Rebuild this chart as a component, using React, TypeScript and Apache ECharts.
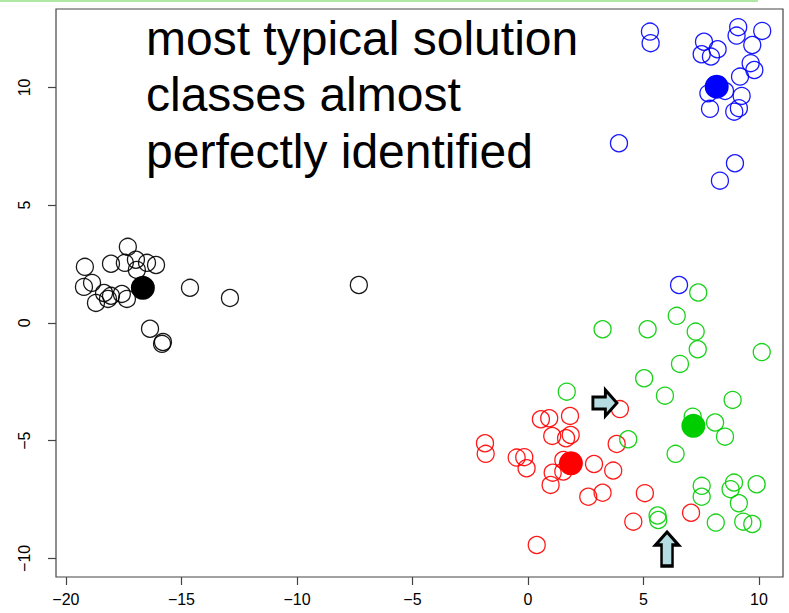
import React, { useEffect, useRef } from "react";
import * as echarts from "echarts";

const xTicks = [-20, -15, -10, -5, 0, 5, 10];
const yTicks = [-10, -5, 0, 5, 10];

const blackX = [-19.18, -18.05, -17.32, -16.97, -17.45, -16.49, -16.10, -16.93, -19.22, -18.87, -18.35, -18.05, -18.70, -18.18, -17.58, -17.36, -14.63, -12.90, -7.32, -16.36, -15.80, -15.84];
const blackY = [2.38, 2.51, 3.23, 2.68, 2.55, 2.55, 2.46, 2.25, 1.53, 1.70, 1.27, 1.15, 0.85, 1.02, 1.23, 1.02, 1.49, 1.06, 1.61, -0.25, -0.81, -0.89];

const blueX = [5.28, 5.31, 7.62, 7.52, 8.21, 7.92, 9.10, 9.03, 10.14, 9.71, 9.64, 9.80, 9.18, 7.81, 8.53, 9.25, 7.88, 9.13, 8.93, 3.94, 8.96, 8.31, 6.54];
const blueY = [12.37, 11.88, 11.94, 11.41, 11.62, 11.31, 12.56, 12.20, 12.40, 11.80, 11.03, 10.74, 10.46, 9.75, 9.85, 9.64, 9.09, 9.12, 8.97, 7.63, 6.78, 6.04, 1.61];

const redX = [-1.86, -1.83, 0.56, 0.92, 1.82, 1.05, 1.65, 1.85, -0.49, -0.16, -0.06, 1.07, 1.53, 0.98, 1.53, 2.86, 3.69, 3.84, 3.98, 2.61, 3.23, 0.38, 5.06, 4.56, 7.06];
const redY = [-5.11, -5.56, -4.09, -4.05, -3.95, -4.80, -4.90, -4.76, -5.72, -5.70, -6.17, -6.36, -6.31, -6.88, -5.82, -5.99, -6.27, -5.14, -3.66, -7.38, -7.21, -9.43, -7.23, -8.44, -8.06];

const greenX = [7.37, 6.44, 3.23, 5.18, 7.26, 7.35, 10.12, 6.58, 5.03, 5.93, 8.86, 7.13, 8.10, 8.53, 4.34, 6.39, 7.52, 7.52, 8.92, 8.77, 9.90, 9.13, 5.61, 5.64, 8.13, 9.32, 9.71, 1.68];
const greenY = [1.29, 0.30, -0.27, -0.27, -0.37, -1.12, -1.24, -1.74, -2.35, -3.09, -3.27, -3.98, -4.23, -4.83, -4.94, -5.56, -6.92, -7.38, -6.78, -7.06, -6.85, -7.66, -8.18, -8.37, -8.48, -8.44, -8.54, -2.92];

const centroidX = [-16.67, 8.17, 1.86, 7.16];
const centroidY = [1.49, 10.03, -5.96, -4.37];
const centroidColors = ["#000000", "#0000ff", "#ff0000", "#00cd00"];

const rightArrowAt = [3.33, -3.4];
const upArrowAt = [6.02, -9.6];

const annotation = "most typical solution\nclasses almost\nperfectly identified";

const zip = (xs: number[], ys: number[]) => xs.map((x, i) => [x, ys[i]]);
const fmt = (v: number) => (v < 0 ? "\u2212" + Math.abs(v) : String(v));

export default function App() {
  const ref = useRef<HTMLDivElement>(null);
  useEffect(() => {
    if (!ref.current) return;
    const chart = echarts.init(ref.current, undefined, { renderer: "svg" });
    const openSeries = (data: number[][], color: string) => ({
      type: "scatter",
      data,
      symbol: "circle",
      symbolSize: 17,
      silent: true,
      itemStyle: { color: "rgba(0,0,0,0)", borderColor: color, borderWidth: 1.3, opacity: 0.9 },
      emphasis: { disabled: true },
    });
    chart.setOption({
      animation: false,
      backgroundColor: "#ffffff",
      textStyle: { fontFamily: "Liberation Sans" },
      grid: {
        left: 56,
        right: 6,
        top: 9,
        bottom: 36,
        show: true,
        borderColor: "#444",
        borderWidth: 1.2,
        backgroundColor: "#fff",
      },
      xAxis: {
        type: "value",
        min: -20.43,
        max: 11.04,
        splitLine: { show: false },
        axisLine: { show: false, onZero: false },
        axisTick: { show: true, length: 8, customValues: xTicks, lineStyle: { color: "#444", width: 1.2 } },
        axisLabel: { customValues: xTicks, formatter: fmt, margin: 14, fontSize: 16, color: "#000", fontFamily: "Liberation Sans" },
      },
      yAxis: {
        type: "value",
        min: -10.79,
        max: 13.33,
        splitLine: { show: false },
        axisLine: { show: false, onZero: false },
        axisTick: { show: true, length: 8, customValues: yTicks, lineStyle: { color: "#444", width: 1.2 } },
        axisLabel: { customValues: yTicks, formatter: fmt, rotate: 90, margin: 24, fontSize: 16, color: "#000", fontFamily: "Liberation Sans" },
      },
      series: [
        openSeries(zip(blackX, blackY), "#000000"),
        openSeries(zip(blueX, blueY), "#0000ff"),
        openSeries(zip(redX, redY), "#ff0000"),
        openSeries(zip(greenX, greenY), "#00cd00"),
        {
          type: "scatter",
          silent: true,
          symbol: "circle",
          symbolSize: 24,
          data: centroidX.map((x, i) => ({ value: [x, centroidY[i]], itemStyle: { color: centroidColors[i], opacity: 1 } })),
        },
        {
          type: "scatter",
          silent: true,
          symbol: "path://M0,7 L13,7 L13,0 L25,13 L13,26 L13,19 L0,19 Z",
          symbolSize: [24, 26],
          itemStyle: { color: "#b5dce0", borderColor: "#000", borderWidth: 3, opacity: 1 },
          data: [rightArrowAt],
        },
        {
          type: "scatter",
          silent: true,
          symbol: "path://M6,34 L6,13 L0,13 L11.5,0 L23,13 L17,13 L17,34 Z",
          symbolSize: [23, 34],
          itemStyle: { color: "#b5dce0", borderColor: "#000", borderWidth: 3, opacity: 1 },
          data: [upArrowAt],
        },
      ],
      graphic: [
        { type: "rect", shape: { x: 0, y: 0, width: 758, height: 2 }, style: { fill: "#aee8a4" } },
        {
          type: "text",
          left: 146,
          top: 10,
          style: { text: annotation, font: '48px "Liberation Sans"', fill: "#000", lineHeight: 56.5 },
        },
      ],
    });
    return () => chart.dispose();
  }, []);
  return <div ref={ref} style={{ position: "fixed", left: 0, top: 0, width: 789, height: 613 }} />;
}
